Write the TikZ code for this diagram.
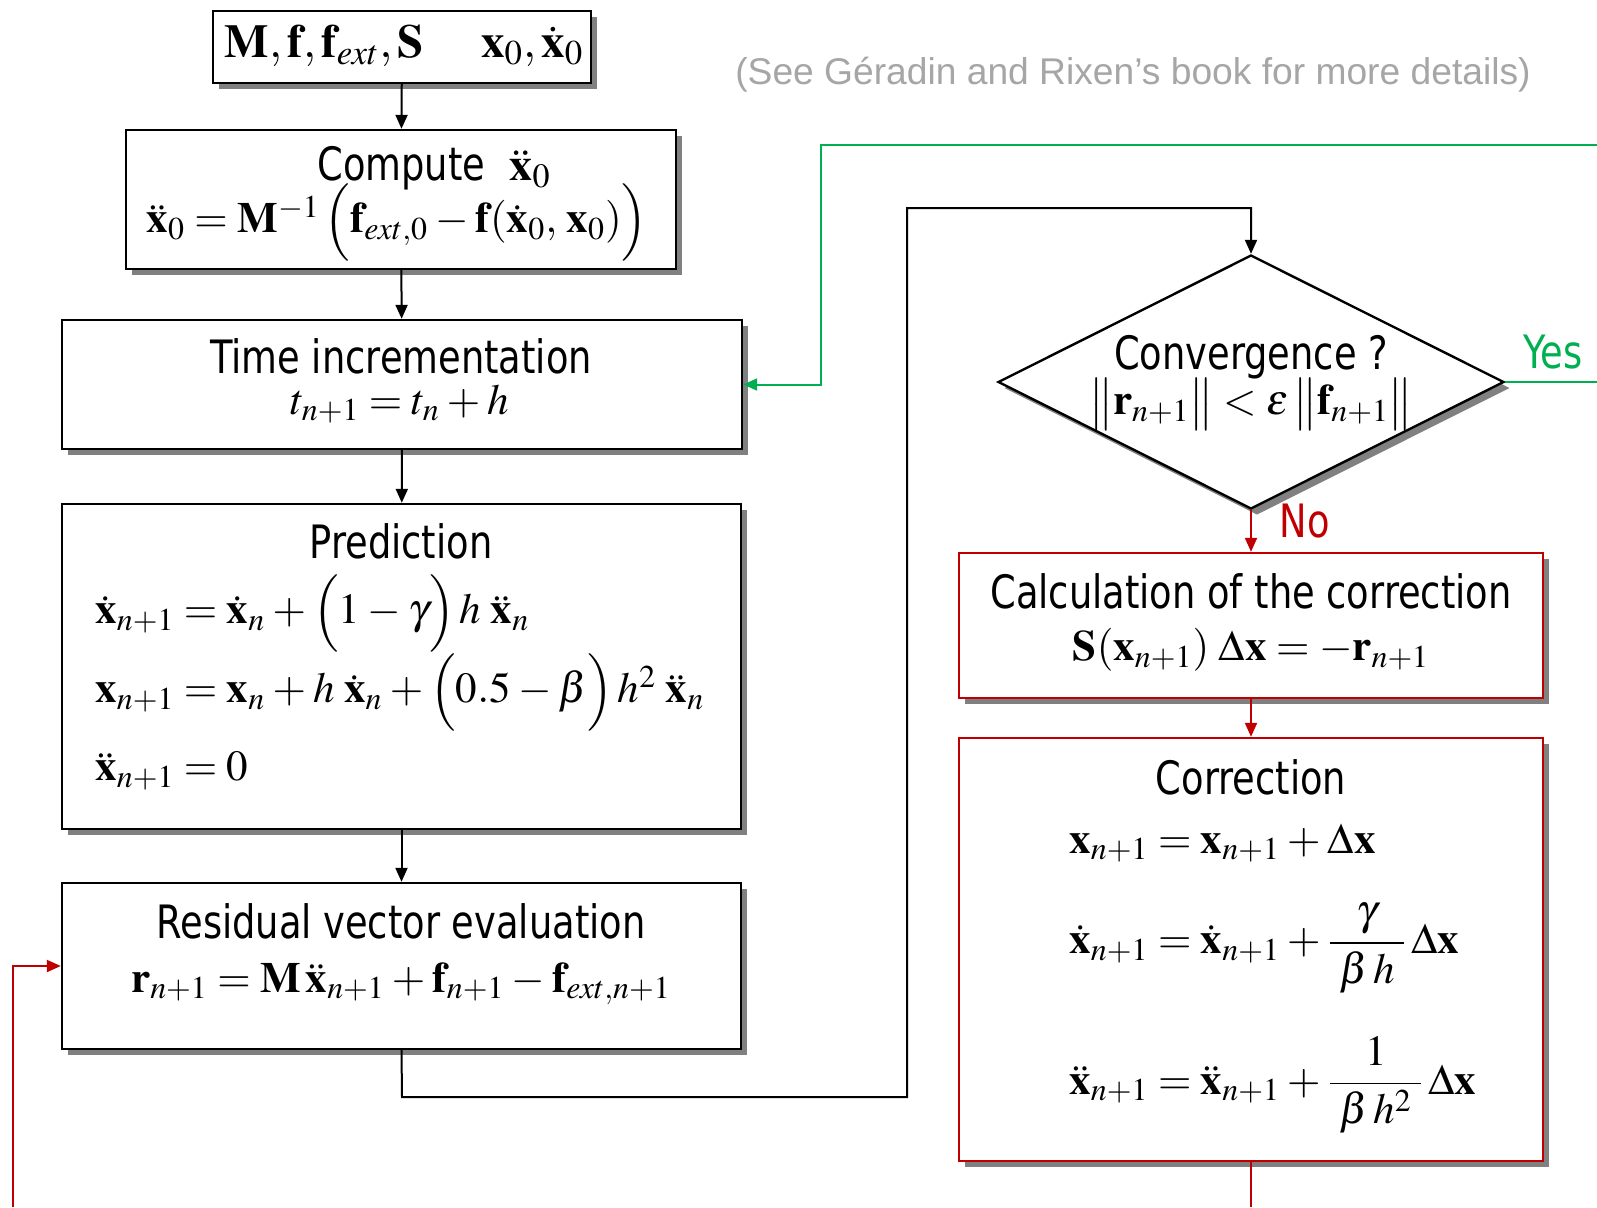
\documentclass[tikz,border=0pt]{standalone}
\usepackage{amsmath}
\usepackage{mathptmx}
\usepackage[no-math]{fontspec}
\setmainfont{DejaVu Sans}[FakeStretch=0.8]
\newfontfamily\notefont{Liberation Sans}
\usetikzlibrary{shapes.geometric,arrows.meta,shadows}
\definecolor{myred}{RGB}{192,0,0}
\definecolor{mygreen}{RGB}{0,176,80}
\definecolor{mygray}{RGB}{166,166,166}
\newcommand{\bx}{\mathbf{x}}
\newcommand{\dx}{\dot{\mathbf{x}}}
\newcommand{\ddx}{\ddot{\mathbf{x}}}
\newcommand{\tightmath}{\medmuskip=3mu\thickmuskip=4mu}
\begin{document}
\begin{tikzpicture}[x=0.5pt,y=-0.5pt,
  box/.style={draw=black, line width=1.2pt, fill=white, rectangle, inner sep=0pt,
    drop shadow={shadow xshift=3pt, shadow yshift=-3pt, fill=black!50, opacity=1}},
  rbox/.style={box, draw=myred},
  conn/.style={line width=1pt, -{Triangle[length=7pt,width=6pt]}},
  txt/.style={font=\fontsize{23}{27}\selectfont, inner sep=0pt},
  eq/.style={font=\fontsize{21.5}{25}\selectfont\tightmath, inner sep=0pt}]
\useasboundingbox (0,0) rectangle (1597,1207);
\fill[white] (0,0) rectangle (1597,1207);

% boxes
\node[box, minimum width=189pt, minimum height=36pt] (top) at (402,47) {};
\node[box, minimum width=275pt, minimum height=69.5pt] (comp) at (401,199.5) {};
\node[box, minimum width=340pt, minimum height=64.5pt] (time) at (402,384.5) {};
\node[box, minimum width=339.5pt, minimum height=162.5pt] (pred) at (401.5,666.5) {};
\node[box, minimum width=339.5pt, minimum height=83pt] (resid) at (401.5,966) {};
\node[box, shape=diamond, minimum width=253pt, minimum height=127pt] (diam) at (1251,382) {};
\node[rbox, minimum width=292pt, minimum height=72.5pt] (calc) at (1251,625.5) {};
\node[rbox, minimum width=292pt, minimum height=211.5pt] (corr) at (1251,949.5) {};

% texts
\node[eq, font=\fontsize{23.5}{28}\selectfont\tightmath] (toptxt) at (404,46) {$\mathbf{M}, \mathbf{f}, \mathbf{f}_{ext}, \mathbf{S}\quad\; \bx_0, \dx_0$};
\node[txt] (comp1) at (434,168) {Compute \;$\ddx_0$};
\node[eq] (comp2) at (397,222) {$\ddx_0 = \mathbf{M}^{-1}\,\Bigl(\mathbf{f}_{ext,0} - \mathbf{f}(\dx_0,\, \bx_0)\Bigr)$};
\node[txt] (time1) at (401,356) {Time incrementation};
\node[eq] (time2) at (400,404) {$t_{n+1} = t_n + h$};
\node[txt] (pred1) at (401,541) {Prediction};
\node[eq, anchor=west] (pred2) at (95,613) {$\dx_{n+1} = \dx_n + \Bigl(1-\gamma\Bigr)\,h\;\ddx_n$};
\node[eq, anchor=west] (pred3) at (95,692) {$\bx_{n+1} = \bx_n + h\;\dx_n + \Bigl(0.5-\beta\Bigr)\,h^2\;\ddx_n$};
\node[eq, anchor=west] (pred4) at (95,771) {$\ddx_{n+1} = 0$};
\node[txt] (res1) at (401,921) {Residual vector evaluation};
\node[eq] (res2) at (401,984) {$\mathbf{r}_{n+1} = \mathbf{M}\,\ddx_{n+1} + \mathbf{f}_{n+1} - \mathbf{f}_{ext,n+1}$};
\node[txt] (conv1) at (1251,357) {Convergence ?};
\node[eq] (conv2) at (1251,404) {$\bigl\|\mathbf{r}_{n+1}\bigr\| < \varepsilon\,\bigl\|\mathbf{f}_{n+1}\bigr\|$};
\node[txt] (calc1) at (1251,591) {Calculation of the correction};
\node[eq] (calc2) at (1251,650) {$\mathbf{S}(\bx_{n+1})\;\Delta\bx = -\mathbf{r}_{n+1}$};
\node[txt] (corr1) at (1251,777) {Correction};
\node[eq, anchor=west] (corr2) at (1069,843) {$\bx_{n+1} = \bx_{n+1} + \Delta\bx$};
\node[eq, anchor=west] (corr3) at (1069,948) {$\dx_{n+1} = \dx_{n+1} + \dfrac{\;\gamma\;}{\;\beta\,h\;}\,\Delta\bx$};
\node[eq, anchor=west] (corr4) at (1069,1085) {$\ddx_{n+1} = \ddx_{n+1} + \dfrac{1}{\;\beta\,h^2\;}\,\Delta\bx$};
\node[txt, text=mygreen, anchor=base] (yes) at (1553,368) {Yes};
\node[txt, text=myred, anchor=base] (no) at (1305,537) {No};
\node[inner sep=0pt, text=mygray, font=\notefont\fontsize{18.6}{22}\selectfont] (note) at (1133,75) {(See Géradin and Rixen’s book for more details)};

% free ends
\coordinate (yesend) at (1597,382);
\coordinate (gstart) at (1597,145);
\coordinate (redend) at (1251,1207);
\coordinate (redstart) at (13,1207);

% connectors
\draw[conn] (top) -- (comp);
\draw[conn] (comp) -- (time);
\draw[conn] (time) -- (pred);
\draw[conn] (pred) -- (resid);
\draw[conn] (resid.south) -- (402,1097) -- (907,1097) -- (907,208) -- (1251,208) -- (diam.north);
\draw[line width=1pt, mygreen] (diam.east) -- (yesend);
\draw[conn, mygreen] (gstart) -- (821,145) |- (time.east);
\draw[conn, myred] (diam.south) -- (calc.north);
\draw[conn, myred] (calc.south) -- (corr.north);
\draw[line width=1pt, myred] (corr.south) -- (redend);
\draw[conn, myred] (redstart) |- (resid.west);
\end{tikzpicture}
\end{document}
